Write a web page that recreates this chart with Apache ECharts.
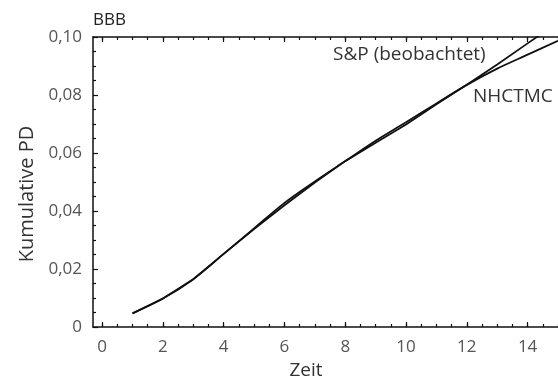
<!DOCTYPE html>
<html>
<head>
<meta charset="utf-8">
<script src="https://cdn.jsdelivr.net/npm/echarts@6/dist/echarts.min.js"></script>
<style>
  html, body { margin: 0; padding: 0; background: #fff; }
  #main { width: 558px; height: 378px; }
</style>
</head>
<body>
<div id="main"></div>
<script>
// Zeit (Jahre)
var years = [1, 2, 3, 4, 5, 6, 7, 8, 9, 10, 11, 12, 13, 14, 15];
// S&P (beobachtet)
var spValues = [0.0047, 0.0098, 0.0165, 0.0252, 0.0338, 0.0420, 0.0498, 0.0572, 0.0635, 0.0698, 0.0768, 0.0835, 0.0905, 0.0978, 0.1050];
// NHCTMC
var nhValues = [0.0047, 0.0098, 0.0165, 0.0252, 0.0340, 0.0428, 0.0502, 0.0572, 0.0642, 0.0706, 0.0771, 0.0835, 0.0891, 0.0939, 0.0987];
// Achsenbeschriftung
var xLabels = [0, 2, 4, 6, 8, 10, 12, 14];
var xMinorTicks = [0, 0.5, 1, 1.5, 2, 2.5, 3, 3.5, 4, 4.5, 5, 5.5, 6, 6.5, 7, 7.5, 8, 8.5, 9, 9.5, 10, 10.5, 11, 11.5, 12, 12.5, 13, 13.5, 14, 14.5, 15];

var font = 'Open Sans';
var lineCol = '#111';

function pairs(xs, ys) {
    var out = [];
    for (var i = 0; i < xs.length; i++) out.push([xs[i], ys[i]]);
    return out;
}

function xAx(pos, major, showLine) {
    return {
        type: 'value',
        position: pos,
        min: -0.3,
        max: 15,
        axisLine: { show: showLine, onZero: false, lineStyle: { color: lineCol, width: 1.5 } },
        axisTick: {
            show: true, inside: true, length: major ? 5 : 3,
            customValues: major ? xLabels : xMinorTicks,
            lineStyle: { color: lineCol, width: 1.2 }
        },
        axisLabel: {
            show: pos === 'bottom' && major,
            customValues: xLabels,
            margin: 12,
            color: '#555', fontFamily: font, fontSize: 17
        },
        name: pos === 'bottom' && major ? 'Zeit' : '',
        nameLocation: 'middle',
        nameGap: 34,
        nameTextStyle: { color: '#333', fontFamily: font, fontSize: 19, padding: [0, 39, 0, 0] },
        splitLine: { show: false }
    };
}

var myChart = echarts.init(document.getElementById('main'));

var option = {
    animation: false,
    title: {
        text: 'BBB',
        left: 93,
        top: 12,
        padding: 0,
        textStyle: { color: '#222', fontFamily: font, fontSize: 17, fontWeight: 'normal' }
    },
    grid: { left: 93, right: 0, top: 37, bottom: 51, containLabel: false, outerBoundsMode: 'none' },
    xAxis: [
        xAx('bottom', true, true),
        xAx('bottom', false, false),
        xAx('top', true, true),
        xAx('top', false, false)
    ],
    yAxis: {
        type: 'value',
        min: 0,
        max: 0.1,
        interval: 0.02,
        axisLine: { show: true, onZero: false, lineStyle: { color: lineCol, width: 1.5 } },
        axisTick: { show: true, inside: true, length: 5, lineStyle: { color: lineCol, width: 1.2 } },
        minorTick: { show: true, splitNumber: 4, length: 3, lineStyle: { color: lineCol, width: 1.2 } },
        axisLabel: {
            margin: 11,
            color: '#555', fontFamily: font, fontSize: 17,
            formatter: function (v) { return v === 0 ? '0' : v.toFixed(2).replace('.', ','); }
        },
        name: 'Kumulative PD',
        nameLocation: 'middle',
        nameGap: 44,
        nameTextStyle: { color: '#333', fontFamily: font, fontSize: 20, padding: [0, 24, 0, 0] },
        splitLine: { show: false }
    },
    graphic: [
        { type: 'text', left: 333, top: 45, style: { text: 'S&P (beobachtet)', fill: '#333', font: '19px "Open Sans"' } },
        { type: 'text', left: 473, top: 87, style: { text: 'NHCTMC', fill: '#333', font: '19px "Open Sans"' } }
    ],
    series: [{
        name: 'S&P (beobachtet)',
        type: 'line',
        data: pairs(years, spValues),
        showSymbol: false,
        clip: true,
        lineStyle: { color: lineCol, width: 1.8 }
    }, {
        name: 'NHCTMC',
        type: 'line',
        data: pairs(years, nhValues),
        smooth: 0.3,
        showSymbol: false,
        clip: true,
        lineStyle: { color: lineCol, width: 1.8 }
    }]
};

myChart.setOption(option);
</script>
</body>
</html>
